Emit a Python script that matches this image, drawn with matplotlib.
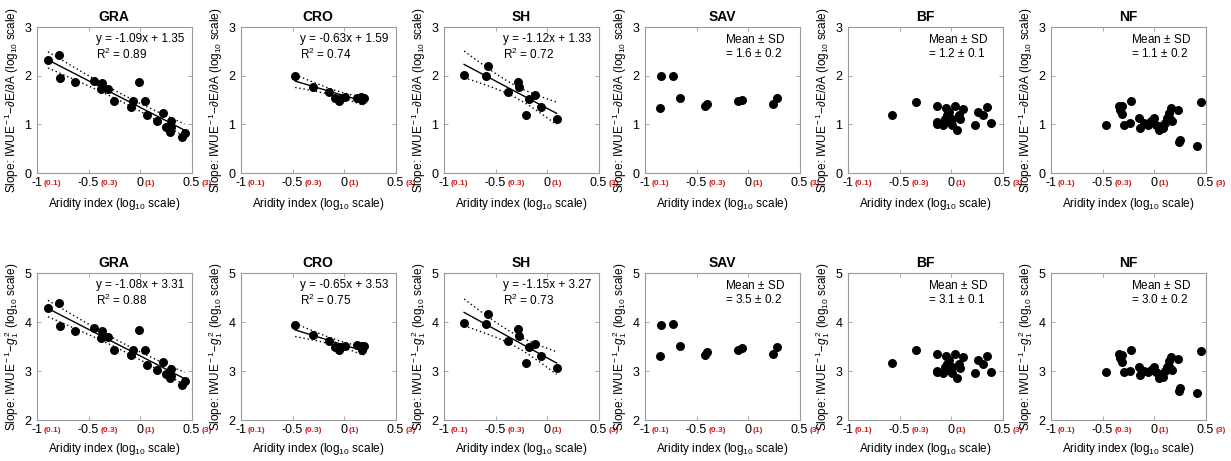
import numpy as np
import matplotlib
matplotlib.use('Agg')
import matplotlib.pyplot as plt

plt.rcParams['font.family'] = ['Liberation Sans', 'DejaVu Sans']
plt.rcParams['mathtext.fontset'] = 'custom'
plt.rcParams['mathtext.rm'] = 'Liberation Sans'
plt.rcParams['mathtext.it'] = 'Liberation Sans:italic'
plt.rcParams['mathtext.bf'] = 'Liberation Sans:bold'

# biome names, one column each
biomes = ['GRA', 'CRO', 'SH', 'SAV', 'BF', 'NF']

# aridity index (log10) per site
gra_x = [-0.894, -0.788, -0.780, -0.627, -0.450, -0.369, -0.379, -0.314, -0.256, -0.089, -0.073,
         -0.015, 0.046, 0.072, 0.168, 0.226, 0.249, 0.297, 0.304, 0.290, 0.410, 0.432]
cro_x = [-0.474, -0.305, -0.149, -0.084, -0.052, -0.036, 0.006, 0.127, 0.175, 0.192, 0.169]
sh_x = [-0.805, -0.574, -0.590, -0.379, -0.281, -0.274, -0.177, -0.203, -0.118, -0.063, 0.093]
sav_x = [-0.848, -0.855, -0.732, -0.661, -0.419, -0.397, -0.097, -0.055, 0.242, 0.284]
bf_x = [-0.573, -0.344, -0.133, -0.140, -0.133, -0.074, -0.048, -0.035, -0.015, 0.008, 0.008,
        0.040, 0.057, 0.073, 0.116, 0.090, 0.237, 0.260, 0.313, 0.346, 0.385, -0.058, -0.025]
nf_x = [-0.470, -0.344, -0.328, -0.311, -0.311, -0.228, -0.295, -0.238, -0.146, -0.139, -0.096,
        -0.063, 0.003, 0.020, 0.053, 0.070, 0.103, 0.126, 0.146, 0.169, 0.152, 0.179, 0.235,
        0.252, 0.245, 0.417, 0.457, -0.030, 0.086]

# top row: slope IWUE^-1 vs dE/dA (log10)
gra_top = [2.32, 2.42, 1.96, 1.87, 1.90, 1.84, 1.72, 1.72, 1.47, 1.36, 1.47,
           1.87, 1.47, 1.19, 1.06, 1.23, 0.95, 0.94, 1.06, 0.85, 0.75, 0.83]
cro_top = [1.99, 1.77, 1.67, 1.55, 1.47, 1.53, 1.57, 1.55, 1.51, 1.55, 1.57]
sh_top = [2.01, 2.19, 1.99, 1.67, 1.87, 1.76, 1.53, 1.19, 1.60, 1.36, 1.11]
sav_top = [1.99, 1.33, 1.99, 1.55, 1.38, 1.42, 1.47, 1.51, 1.41, 1.55]
bf_top = [1.19, 1.45, 1.38, 1.04, 1.01, 0.99, 1.33, 1.19, 1.26, 1.12, 0.99,
          1.38, 0.89, 1.19, 1.31, 1.10, 0.99, 1.26, 1.19, 1.36, 1.02, 1.12, 1.06]
nf_top = [0.99, 1.38, 1.30, 1.22, 1.37, 1.47, 0.99, 1.03, 1.13, 0.92, 1.03,
          0.99, 1.13, 0.99, 0.89, 0.96, 1.03, 1.13, 1.23, 1.34, 1.10, 1.06, 1.30,
          0.68, 0.63, 0.55, 1.45, 1.06, 0.92]

# bottom row: slope IWUE^-1 vs g1^2 (log10)
gra_bot = [4.28, 4.39, 3.91, 3.82, 3.87, 3.81, 3.67, 3.69, 3.43, 3.33, 3.43,
           3.84, 3.42, 3.12, 3.02, 3.19, 2.94, 2.90, 3.04, 2.85, 2.72, 2.80]
cro_bot = [3.94, 3.74, 3.62, 3.50, 3.42, 3.48, 3.51, 3.53, 3.43, 3.51, 3.52]
sh_bot = [3.98, 4.17, 3.96, 3.62, 3.85, 3.72, 3.49, 3.17, 3.55, 3.31, 3.07]
sav_bot = [3.94, 3.31, 3.96, 3.51, 3.33, 3.38, 3.42, 3.47, 3.34, 3.50]
bf_bot = [3.16, 3.42, 3.34, 3.00, 2.98, 2.96, 3.30, 3.15, 3.22, 3.08, 2.95,
          3.34, 2.86, 3.15, 3.28, 3.06, 2.95, 3.22, 3.15, 3.30, 2.99, 3.08, 3.02]
nf_bot = [2.97, 3.35, 3.27, 3.18, 3.33, 3.42, 2.98, 3.00, 3.09, 2.91, 3.00,
          2.97, 3.09, 2.97, 2.85, 2.93, 3.00, 3.09, 3.20, 3.28, 3.06, 3.02, 3.24,
          2.65, 2.60, 2.55, 3.40, 3.02, 2.88]

# fitted lines (None = no significant fit, show mean +- SD instead)
top_slope = [-1.09, -0.63, -1.12, None, None, None]
top_icpt = [1.35, 1.59, 1.33, None, None, None]
top_r2 = [0.89, 0.74, 0.72, None, None, None]
top_mean_sd = [None, None, None, (1.6, 0.2), (1.2, 0.1), (1.1, 0.2)]

bot_slope = [-1.08, -0.65, -1.15, None, None, None]
bot_icpt = [3.31, 3.53, 3.27, None, None, None]
bot_r2 = [0.88, 0.75, 0.73, None, None, None]
bot_mean_sd = [None, None, None, (3.5, 0.2), (3.1, 0.1), (3.0, 0.2)]

xticks = [-1, -0.5, 0, 0.5]
xtick_nums = ['-1', '-0.5', '0', '0.5']
xtick_ai = ['(0.1)', '(0.3)', '(1)', '(3)']

top_ylabel = r'Slope: IWUE$^{\rm -1}$$-\partial\mathrm{E}/\partial\mathrm{A}$ (log$_{10}$ scale)'
bot_ylabel = r'Slope: IWUE$^{\rm -1}$$-g_1^{\,2}$ (log$_{10}$ scale)'
xlabel = r'Aridity index (log$_{10}$ scale)'

xs = [gra_x, cro_x, sh_x, sav_x, bf_x, nf_x]
tops = [gra_top, cro_top, sh_top, sav_top, bf_top, nf_top]
bots = [gra_bot, cro_bot, sh_bot, sav_bot, bf_bot, nf_bot]

T95 = 2.1
SPINE = '#9a9a9a'
RED = '#cc2020'


def draw_panel(ax, name, x, y, slope, icpt, r2, mean_sd, ylims, ylabel, xlab_y):
    x = np.asarray(x)
    y = np.asarray(y)
    ax.scatter(x, y, s=42, color='black', zorder=3, linewidths=0)

    if slope is not None:
        xx = np.linspace(x.min(), x.max(), 50)
        ax.plot(xx, slope * xx + icpt, color='black', lw=1.0)
        # 95% confidence band of the fit
        resid = y - (slope * x + icpt)
        s = np.sqrt(np.sum(resid ** 2) / (len(x) - 2))
        sxx = np.sum((x - x.mean()) ** 2)
        half = T95 * s * np.sqrt(1 / len(x) + (xx - x.mean()) ** 2 / sxx)
        ax.plot(xx, slope * xx + icpt + half, color='black', lw=1.0, ls=(0, (1, 2)))
        ax.plot(xx, slope * xx + icpt - half, color='black', lw=1.0, ls=(0, (1, 2)))
        ax.text(0.38, 0.96, 'y = %.2fx + %.2f\nR$^2$ = %.2f' % (slope, icpt, r2),
                transform=ax.transAxes, ha='left', va='top', fontsize=8.5, linespacing=1.15)
    else:
        ax.text(0.52, 0.96, 'Mean $\\pm$ SD\n= %.1f $\\pm$ %.1f' % mean_sd,
                transform=ax.transAxes, ha='left', va='top', fontsize=8.5, linespacing=1.15)

    ax.set_xlim(-1, 0.5)
    ax.set_ylim(*ylims)
    ax.set_xticks(xticks)
    ax.set_xticklabels([])
    ax.set_yticks(np.arange(ylims[0], ylims[1] + 1))
    ax.tick_params(direction='in', top=True, right=True, length=3, width=0.6,
                   color=SPINE, labelsize=9, pad=4)
    for sp in ax.spines.values():
        sp.set_color(SPINE)
        sp.set_linewidth(0.8)

    # tick labels: log10 value in black, aridity index in red
    for t, num, ai in zip(xticks, xtick_nums, xtick_ai):
        txt = ax.text(t, -0.025, num, transform=ax.get_xaxis_transform(),
                      ha='center', va='top', fontsize=9)
        ax.annotate(ai, xy=(1, 0.45), xycoords=txt, xytext=(0.8, 0),
                    textcoords='offset points', ha='left', va='center',
                    color=RED, fontweight='bold', fontsize=6)

    ax.set_title(name, fontsize=10, fontweight='bold', pad=4)
    ax.set_xlabel(xlabel, fontsize=8.5)
    ax.xaxis.set_label_coords(0.5, xlab_y)
    ax.set_ylabel(ylabel, fontsize=8.5)
    ax.yaxis.set_label_coords(-0.105, 0.5)


fig = plt.figure(figsize=(12.31, 4.61), dpi=100)
lefts = [0.0301, 0.1958, 0.3607, 0.5240, 0.6889, 0.8538]
width = 0.1255

for i, name in enumerate(biomes):
    ax = fig.add_axes([lefts[i], 0.6247, width, 0.3167])
    draw_panel(ax, name, xs[i], tops[i], top_slope[i], top_icpt[i], top_r2[i],
               top_mean_sd[i], (0, 3), top_ylabel, -0.155)
    ax = fig.add_axes([lefts[i], 0.0889, width, 0.3189])
    draw_panel(ax, name, xs[i], bots[i], bot_slope[i], bot_icpt[i], bot_r2[i],
               bot_mean_sd[i], (2, 5), bot_ylabel, -0.145)

fig.savefig('out.png', dpi=100)
